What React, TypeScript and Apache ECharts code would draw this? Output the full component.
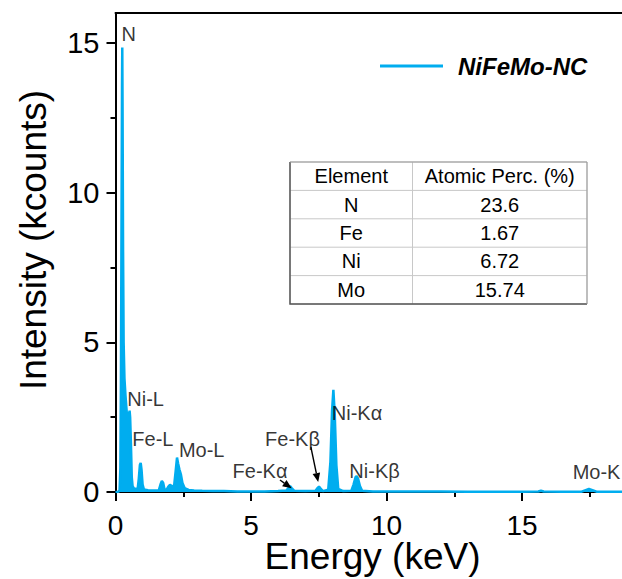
import React, { useEffect, useRef } from "react";
import * as echarts from "echarts";

// Spectrum (energy in keV, intensity in kcounts)
const energyKeV = [
  0.0, 0.1, 0.15, 0.18, 0.2, 0.22, 0.24, 0.25, 0.26, 0.28, 0.3, 0.33, 0.37, 0.42, 0.47, 0.5, 0.52, 0.54, 0.57, 0.6,
  0.63, 0.68, 0.75, 0.82, 0.86, 0.9, 0.93, 0.96, 1.0, 1.05, 1.2, 1.4, 1.6, 1.66, 1.71, 1.76, 1.81, 1.88, 1.95, 2.01,
  2.08, 2.16, 2.22, 2.27, 2.31, 2.36, 2.41, 2.47, 2.55, 2.7, 2.9, 3.2, 3.6, 4.0, 4.5, 5.0, 5.5, 6.0, 6.3, 6.38,
  6.44, 6.5, 6.6, 7.0, 7.38, 7.45, 7.51, 7.57, 7.65, 7.85, 7.93, 7.99, 8.04, 8.09, 8.15, 8.22, 8.4, 8.7, 8.78, 8.86,
  8.9, 8.95, 9.02, 9.1, 9.5, 10.0, 11.0, 12.0, 13.0, 14.0, 15.0, 15.6, 15.7, 15.8, 16.5, 17.2, 17.35, 17.47, 17.6, 17.75,
  18.5, 20.0,
];
const intensityKCounts = [
  0.0, 0.01, 0.05, 0.8, 3.6, 8.5, 13.5, 14.85, 13.0, 8.0, 5.0, 3.8, 3.2, 2.6, 2.45, 2.6, 2.72, 2.5, 1.6, 0.5,
  0.2, 0.12, 0.1, 0.12, 0.45, 0.9, 0.97, 0.75, 0.25, 0.08, 0.06, 0.05, 0.06, 0.25, 0.37, 0.3, 0.08, 0.07, 0.18, 0.24,
  0.2, 0.18, 0.7, 1.15, 0.95, 0.75, 0.6, 0.3, 0.13, 0.07, 0.05, 0.04, 0.03, 0.03, 0.02, 0.02, 0.02, 0.03, 0.05, 0.13,
  0.2, 0.13, 0.04, 0.03, 0.04, 0.13, 0.18, 0.11, 0.03, 0.08, 1.0, 2.7, 3.41, 2.6, 0.9, 0.1, 0.03, 0.04, 0.24, 0.5,
  0.53, 0.45, 0.2, 0.04, 0.02, 0.02, 0.015, 0.015, 0.01, 0.01, 0.01, 0.015, 0.04, 0.015, 0.01, 0.01, 0.06, 0.1, 0.06, 0.01,
  0.01, 0.01,
];

// Peak annotations (text left edge / vertical middle, in data units)
const peakLabels = ["N", "Ni-L", "Fe-L", "Mo-L", "Fe-K\u03b1", "Fe-K\u03b2", "Ni-K\u03b1", "Ni-K\u03b2", "Mo-K"];
const peakLabelX = [0.22, 0.435, 0.62, 2.34, 4.32, 5.52, 7.98, 8.63, 16.87];
const peakLabelY = [15.29, 3.12, 1.78, 1.39, 0.69, 1.78, 2.65, 0.69, 0.67];

// Arrows [fromX, fromY, toX, toY] in data units
const arrowFe_Ka = [6.07, 0.4, 6.5, 0.124];
const arrowFe_Kb = [7.21, 1.5, 7.48, 0.33];

// Axis ticks
const yMajorTicks = [0, 5, 10, 15];
const yMinorTicks = [2.5, 7.5, 12.5];

// Composition table
const tableHeader = ["Element", "Atomic Perc. (%)"];
const tableElements = ["N", "Fe", "Ni", "Mo"];
const tablePercents = ["23.6", "1.67", "6.72", "15.74"];

const seriesName = "NiFeMo-NC";
const FONT = 'Arial, "Liberation Sans", Helvetica, sans-serif';
const BLUE = "#00ADEF";

export default function App() {
  const ref = useRef<HTMLDivElement>(null);

  useEffect(() => {
    if (!ref.current) return;
    const chart = echarts.init(ref.current, undefined, { renderer: "svg" });

    const tX0 = 290, tX1 = 587, tY0 = 162, colX = 412.5;
    const rowH = 28.4;
    const tY1 = tY0 + rowH * 5;
    const tableGraphics: any[] = [
      { type: "rect", shape: { x: tX0, y: tY0, width: tX1 - tX0, height: tY1 - tY0 }, style: { fill: "#fff", stroke: "#c8c8c8", lineWidth: 1 }, z: 10 },
    ];
    for (let r = 1; r < 5; r++) {
      const y = tY0 + rowH * r;
      tableGraphics.push({ type: "line", shape: { x1: tX0, y1: y, x2: tX1, y2: y }, style: { stroke: "#c8c8c8", lineWidth: 1 }, z: 11 });
    }
    tableGraphics.push({ type: "line", shape: { x1: colX, y1: tY0, x2: colX, y2: tY1 }, style: { stroke: "#c8c8c8", lineWidth: 1 }, z: 11 });
    tableGraphics.push({ type: "polyline", shape: { points: [[tX0, tY0], [tX0, tY1], [tX1, tY1]] }, style: { stroke: "#555", lineWidth: 1.5, fill: null }, z: 12 });
    tableGraphics.push({ type: "polyline", shape: { points: [[tX0, tY0], [tX1, tY0], [tX1, tY1]] }, style: { stroke: "#999", lineWidth: 1, fill: null }, z: 12 });
    const c1 = (tX0 + colX) / 2, c2 = (colX + tX1) / 2;
    const rows = [[tableHeader[0], tableHeader[1]], ...tableElements.map((e, i) => [e, tablePercents[i]])];
    rows.forEach((row, r) => {
      const cy = tY0 + rowH * r + rowH / 2;
      tableGraphics.push({ type: "text", x: c1, y: cy, style: { text: row[0], fontSize: 20, fontFamily: FONT, fill: "#000", align: "center", verticalAlign: "middle" }, z: 13 });
      tableGraphics.push({ type: "text", x: c2, y: cy, style: { text: row[1], fontSize: 20, fontFamily: FONT, fill: "#000", align: "center", verticalAlign: "middle" }, z: 13 });
    });

    chart.setOption({
      animation: false,
      backgroundColor: "#fff",
      textStyle: { fontFamily: FONT },
      grid: { left: 115.5, top: 13, right: 2.5, bottom: 87, containLabel: false, outerBoundsMode: "none" },
      legend: {
        data: [seriesName],
        left: 375,
        top: 49,
        icon: "rect",
        itemWidth: 63,
        itemHeight: 3,
        textStyle: { fontSize: 24, fontWeight: "bold", fontStyle: "italic", color: "#000", fontFamily: FONT, padding: [0, 0, 0, 10] },
      },
      xAxis: [
        {
          type: "value",
          min: 0,
          max: 20,
          interval: 5,
          name: "Energy (keV)",
          nameLocation: "middle",
          nameGap: 51,
          nameMoveOverlap: false,
          nameTextStyle: { fontSize: 37, lineHeight: 26, color: "#000", fontFamily: FONT, padding: [0, 28, 0, 0] },
          axisLine: { show: true, onZero: false, lineStyle: { color: "#000", width: 2 } },
          axisTick: { show: true, inside: false, length: 9, lineStyle: { color: "#000", width: 2 } },
          minorTick: { show: true, splitNumber: 2, length: 5, lineStyle: { color: "#000", width: 2 } },
          axisLabel: { fontSize: 28, lineHeight: 22, color: "#000", margin: 22, fontFamily: FONT, showMaxLabel: false },
          splitLine: { show: false },
        },
        {
          type: "value",
          position: "top",
          min: 0,
          max: 20,
          axisLine: { show: true, onZero: false, lineStyle: { color: "#000", width: 2 } },
          axisTick: { show: false },
          axisLabel: { show: false },
          splitLine: { show: false },
        },
      ],
      yAxis: [
        {
          type: "value",
          min: 0,
          max: 16,
          interval: 5,
          name: "Intensity (kcounts)",
          nameLocation: "middle",
          nameGap: 64,
          nameMoveOverlap: false,
          nameTextStyle: { fontSize: 37, color: "#000", fontFamily: FONT, padding: [0, 0, 0, 25] },
          axisLine: { show: true, onZero: false, lineStyle: { color: "#000", width: 2 } },
          axisTick: { show: true, inside: false, length: 9, lineStyle: { color: "#000", width: 2 }, customValues: yMajorTicks },
          axisLabel: { fontSize: 29, color: "#000", margin: 16, fontFamily: FONT, customValues: yMajorTicks },
          splitLine: { show: false },
        },
        {
          type: "value",
          min: 0,
          max: 16,
          position: "left",
          axisLine: { show: false, onZero: false },
          axisTick: { show: true, inside: false, length: 5, lineStyle: { color: "#000", width: 2 }, customValues: yMinorTicks },
          axisLabel: { show: false, customValues: yMinorTicks },
          splitLine: { show: false },
        },
      ],
      series: [
        {
          name: seriesName,
          type: "line",
          data: energyKeV.map((e, i) => [e, intensityKCounts[i]]),
          symbol: "none",
          showSymbol: false,
          lineStyle: { color: BLUE, width: 2.5 },
          itemStyle: { color: BLUE },
          areaStyle: { color: BLUE, opacity: 1 },
          z: 3,
        },
        {
          name: "peak labels",
          type: "scatter",
          data: peakLabels.map((t, i) => ({ name: t, value: [peakLabelX[i], peakLabelY[i]] })),
          symbolSize: 0,
          silent: true,
          z: 5,
          label: {
            show: true,
            formatter: "{b}",
            position: [0, 0],
            align: "left",
            verticalAlign: "middle",
            fontSize: 20,
            color: "#000",
            fontFamily: FONT,
          },
        },
      ],
      graphic: tableGraphics,
    });

    // Arrows placed through the chart's own scales
    const arrowGraphics: any[] = [];
    [arrowFe_Ka, arrowFe_Kb].forEach((a) => {
      const p1 = chart.convertToPixel({ gridIndex: 0 }, [a[0], a[1]]) as number[];
      const p2 = chart.convertToPixel({ gridIndex: 0 }, [a[2], a[3]]) as number[];
      const dx = p2[0] - p1[0], dy = p2[1] - p1[1];
      const len = Math.sqrt(dx * dx + dy * dy) || 1;
      const ux = dx / len, uy = dy / len;
      const nx = -uy, ny = ux;
      const headL = 9, headW = 3.8;
      const bx = p2[0] - ux * headL, by = p2[1] - uy * headL;
      arrowGraphics.push({ type: "line", shape: { x1: p1[0], y1: p1[1], x2: bx, y2: by }, style: { stroke: "#000", lineWidth: 1.4 }, z: 20 });
      arrowGraphics.push({
        type: "polygon",
        shape: { points: [[p2[0], p2[1]], [bx + nx * headW, by + ny * headW], [bx - nx * headW, by - ny * headW]] },
        style: { fill: "#000", stroke: "none" },
        z: 20,
      });
    });
    chart.setOption({ graphic: [...tableGraphics, ...arrowGraphics] });

    return () => chart.dispose();
  }, []);

  return (
    <div style={{ position: "fixed", left: 0, top: 0, width: 622, height: 579, overflow: "hidden", background: "#fff" }}>
      <div ref={ref} style={{ width: 660, height: 579 }} />
    </div>
  );
}
